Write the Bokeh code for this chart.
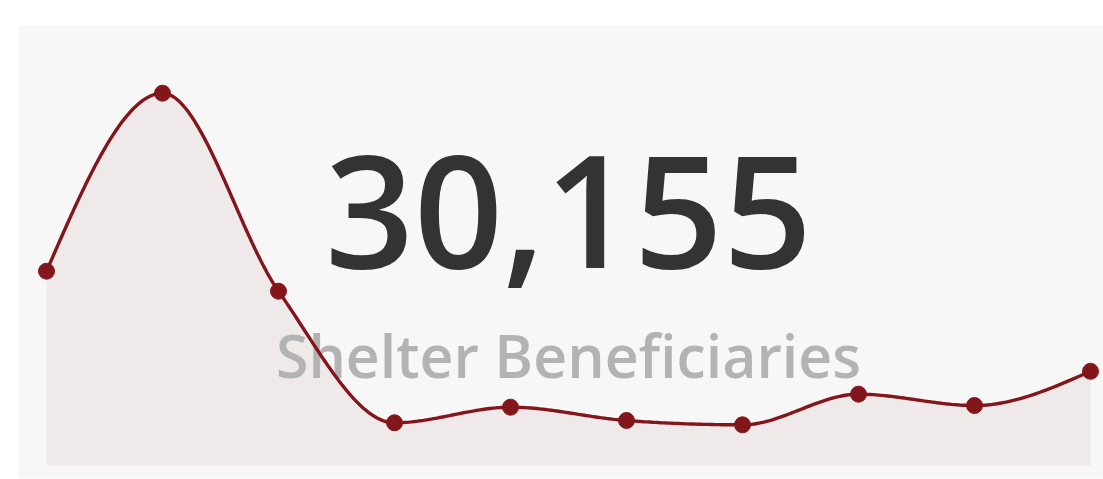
import numpy as np
from bokeh.plotting import figure
from bokeh.models import ColumnDataSource, Range1d
from bokeh.core.properties import value
from bokeh.embed import file_html
from bokeh.resources import INLINE

# ---- data ----
months = list(range(10))
beneficiaries = [5081, 9736, 4558, 1117, 1525, 1177, 1064, 1865, 1569, 2463]
total_label = "30,155"
subtitle = "Shelter Beneficiaries"

LINE = "#83161a"
FILL = "#efe9e9"
PANEL = "#f7f7f7"


def monotone_curve(xs, ys, n=40):
    xs = np.asarray(xs, float)
    ys = np.asarray(ys, float)
    h = np.diff(xs)
    s = np.diff(ys) / h
    m = np.zeros(len(xs))
    for i in range(1, len(xs) - 1):
        s0, s1 = s[i - 1], s[i]
        p = (s0 * h[i] + s1 * h[i - 1]) / (h[i - 1] + h[i])
        m[i] = (np.sign(s0) + np.sign(s1)) * min(abs(s0), abs(s1), 0.5 * abs(p))
    m[0] = (3 * s[0] - m[1]) / 2
    m[-1] = (3 * s[-1] - m[-2]) / 2
    px, py = [], []
    for i in range(len(xs) - 1):
        t = np.linspace(0, 1, n, endpoint=(i == len(xs) - 2))
        h00 = 2 * t**3 - 3 * t**2 + 1
        h10 = t**3 - 2 * t**2 + t
        h01 = -2 * t**3 + 3 * t**2
        h11 = t**3 - t**2
        px.extend(xs[i] + t * h[i])
        py.extend(h00 * ys[i] + h10 * h[i] * m[i] + h01 * ys[i + 1] + h11 * h[i] * m[i + 1])
    return np.array(px), np.array(py)


cx, cy = monotone_curve(months, beneficiaries)
curve = ColumnDataSource(dict(x=cx, y=cy, y0=np.zeros_like(cy)))
pts = ColumnDataSource(dict(x=months, y=beneficiaries))

p = figure(width=1103, height=479, output_backend="svg", toolbar_location=None,
           x_range=Range1d(-0.2414, 9.112), y_range=Range1d(-340, 11506),
           min_border_left=18, min_border_top=25, min_border_right=0, min_border_bottom=1)
p.background_fill_color = PANEL
p.border_fill_color = "white"
p.outline_line_color = None
p.axis.visible = False
p.xgrid.visible = False
p.ygrid.visible = False

p.varea(x="x", y1="y0", y2="y", source=curve, fill_color=FILL)

xc = (months[0] + months[-1]) / 2
p.text(x=[xc], y=[6630], text=[total_label], text_font=value("Open Sans SemiBold"),
       text_font_size="156px", text_color="#333333", text_align="center",
       text_baseline="alphabetic")
p.text(x=[xc], y=[2880], text=[subtitle], text_font=value("Open Sans SemiBold"),
       text_font_size="59px", text_color="#b3b3b3", text_align="center",
       text_baseline="alphabetic")

p.line(x="x", y="y", source=curve, line_color=LINE, line_width=3.4)
p.scatter(x="x", y="y", source=pts, size=16, fill_color=LINE, line_color=LINE)

open("out.html", "w").write(file_html(p, INLINE))
